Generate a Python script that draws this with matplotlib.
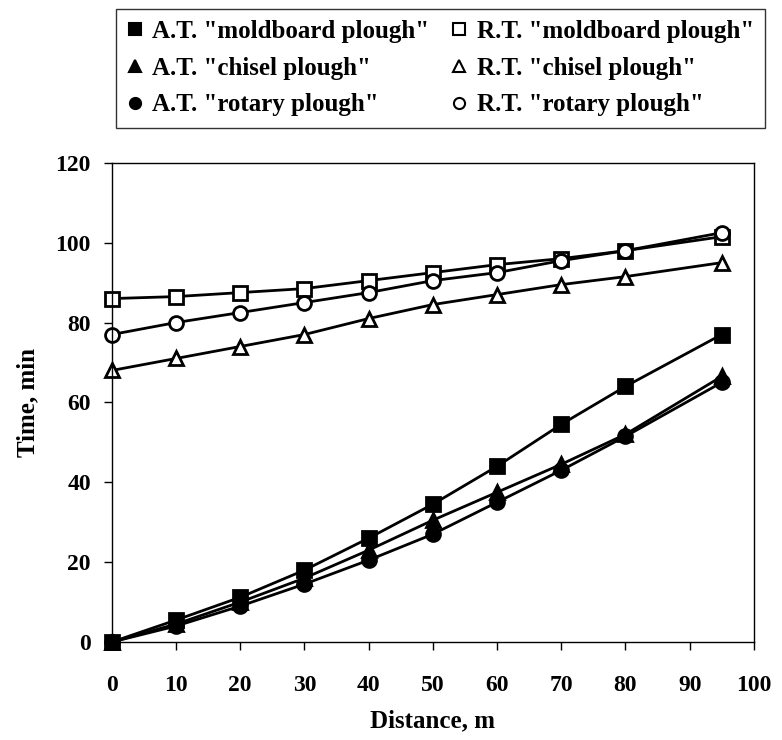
import matplotlib
matplotlib.use("Agg")
import matplotlib.pyplot as plt

distance = [0, 10, 20, 30, 40, 50, 60, 70, 80, 95]
at_moldboard = [0, 5.5, 11.2, 18, 26, 34.5, 44, 54.5, 64, 77]
at_chisel = [0, 4.5, 10, 16, 23, 30.5, 37.5, 44.5, 52, 66.5]
at_rotary = [0, 4, 9, 14.5, 20.5, 27, 35, 43, 51.5, 65]
rt_moldboard = [86, 86.5, 87.5, 88.5, 90.5, 92.5, 94.5, 96, 98, 101.5]
rt_chisel = [68, 71, 74, 77, 81, 84.5, 87, 89.5, 91.5, 95]
rt_rotary = [77, 80, 82.5, 85, 87.5, 90.5, 92.5, 95.5, 98, 102.5]

labels = ['A.T. "moldboard plough"', 'A.T. "chisel plough"', 'A.T. "rotary plough"',
          'R.T. "moldboard plough"', 'R.T. "chisel plough"', 'R.T. "rotary plough"']
xticks = [0, 10, 20, 30, 40, 50, 60, 70, 80, 90, 100]
yticks = [0, 20, 40, 60, 80, 100, 120]

plt.rcParams['font.family'] = ['Liberation Serif', 'DejaVu Serif']
plt.rcParams['font.weight'] = 'bold'

fig = plt.figure(figsize=(7.82, 7.40), dpi=100)
ax = fig.add_axes([0.143, 0.1324, 0.821, 0.6476])

series = [
    (at_moldboard, 's', 'black'),
    (at_chisel, '^', 'black'),
    (at_rotary, 'o', 'black'),
    (rt_moldboard, 's', 'white'),
    (rt_chisel, '^', 'white'),
    (rt_rotary, 'o', 'white'),
]
handles = []
for (vals, mk, fc), lab in zip(series, labels):
    ax.plot(distance, vals, color='black', lw=2.0, marker=mk, markersize=10,
            markerfacecolor=fc, markeredgecolor='black', markeredgewidth=2,
            clip_on=False)
    h, = ax.plot([], [], ls='none', marker=mk, markersize=8, markerfacecolor=fc,
                 markeredgecolor='black', markeredgewidth=1.5, label=lab)
    handles.append(h)

ax.set_xlim(0, 100)
ax.set_ylim(0, 120)
ax.set_xticks(xticks)
ax.set_yticks(yticks)
ax.tick_params(axis='x', direction='out', length=6, width=1, pad=18, labelsize=17)
ax.tick_params(axis='y', direction='out', length=6, width=1, pad=9, labelsize=17)
for lbl in ax.get_xticklabels() + ax.get_yticklabels():
    lbl.set_fontweight('bold')
for s in ax.spines.values():
    s.set_linewidth(1.0)
ax.set_xlabel('Distance, m', fontsize=18, fontweight='bold', labelpad=9)
ax.set_ylabel('Time, min', fontsize=18, fontweight='bold', labelpad=12)

leg = fig.legend(handles=handles, labels=labels, ncol=2, loc='center',
                 bbox_to_anchor=(0.5633, 0.908), frameon=True,
                 fancybox=False, edgecolor='black', handlelength=0.6,
                 handletextpad=0.4, columnspacing=0.9, labelspacing=0.55,
                 borderpad=0.45, prop={'weight': 'bold', 'size': 18})
leg.get_frame().set_linewidth(1.0)

fig.savefig('out.png', dpi=100)
